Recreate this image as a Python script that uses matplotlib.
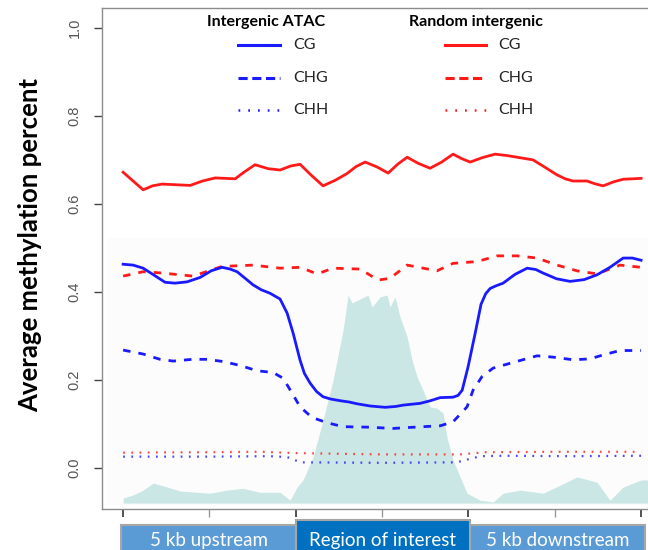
import matplotlib
matplotlib.use("Agg")
import matplotlib.pyplot as plt
from matplotlib.patches import Rectangle
from matplotlib.transforms import blended_transform_factory

# x position: 0-1 = 5 kb upstream, 1-2 = region of interest (scaled), 2-3 = 5 kb downstream
atac_cg_x = [0, 0.058, 0.116, 0.18, 0.243, 0.30, 0.371, 0.446, 0.51, 0.573, 0.62, 0.660, 0.71,
             0.753, 0.80, 0.851, 0.909, 0.950, 0.985, 1.025, 1.05, 1.083, 1.12, 1.158, 1.20,
             1.257, 1.31, 1.355, 1.431, 1.518, 1.58, 1.622, 1.720, 1.78, 1.836, 1.911, 1.94,
             1.964, 1.998, 2.039, 2.073, 2.10, 2.126, 2.16, 2.201, 2.27, 2.340, 2.39, 2.432,
             2.51, 2.589, 2.67, 2.745, 2.82, 2.896, 2.95, 3.0]
atac_cg = [0.463, 0.461, 0.454, 0.438, 0.422, 0.420, 0.423, 0.433, 0.448, 0.456, 0.452, 0.446,
           0.430, 0.416, 0.405, 0.397, 0.384, 0.352, 0.306, 0.245, 0.215, 0.193, 0.174, 0.162,
           0.157, 0.153, 0.150, 0.146, 0.141, 0.138, 0.140, 0.143, 0.147, 0.153, 0.160, 0.161,
           0.165, 0.177, 0.230, 0.306, 0.372, 0.396, 0.408, 0.414, 0.420, 0.440, 0.454, 0.451,
           0.443, 0.430, 0.424, 0.428, 0.439, 0.456, 0.477, 0.477, 0.472]

atac_chg_x = [0, 0.116, 0.214, 0.290, 0.400, 0.486, 0.579, 0.678, 0.776, 0.869, 0.927, 0.979,
              1.025, 1.094, 1.181, 1.274, 1.413, 1.564, 1.645, 1.737, 1.836, 1.911, 1.992, 2.027,
              2.079, 2.143, 2.241, 2.398, 2.490, 2.606, 2.704, 2.780, 2.878, 3.0]
atac_chg = [0.268, 0.259, 0.247, 0.243, 0.247, 0.247, 0.242, 0.233, 0.221, 0.217, 0.204, 0.170,
            0.139, 0.115, 0.103, 0.094, 0.093, 0.090, 0.092, 0.094, 0.096, 0.105, 0.139, 0.177,
            0.208, 0.227, 0.238, 0.255, 0.252, 0.246, 0.248, 0.257, 0.267, 0.267]

atac_chh_x = [0, 0.5, 0.85, 0.95, 0.985, 1.025, 1.5, 1.932, 1.97, 2.02, 2.07, 2.2, 2.6, 3.0]
atac_chh = [0.026, 0.026, 0.027, 0.025, 0.020, 0.013, 0.012, 0.013, 0.017, 0.022, 0.027, 0.028,
            0.027, 0.028]

rand_cg_x = [0, 0.058, 0.116, 0.17, 0.226, 0.388, 0.46, 0.533, 0.649, 0.70, 0.764, 0.84, 0.909,
             0.97, 1.025, 1.09, 1.158, 1.23, 1.297, 1.35, 1.402, 1.47, 1.535, 1.59, 1.645, 1.71,
             1.778, 1.845, 1.911, 1.96, 2.010, 2.08, 2.154, 2.22, 2.282, 2.374, 2.44, 2.513,
             2.56, 2.606, 2.687, 2.73, 2.780, 2.84, 2.896, 2.95, 3.0]
rand_cg = [0.672, 0.652, 0.632, 0.641, 0.645, 0.642, 0.652, 0.659, 0.657, 0.672, 0.689, 0.680,
           0.677, 0.686, 0.690, 0.665, 0.641, 0.654, 0.669, 0.685, 0.695, 0.684, 0.670, 0.690,
           0.706, 0.692, 0.681, 0.695, 0.713, 0.703, 0.695, 0.705, 0.713, 0.710, 0.706, 0.700,
           0.684, 0.666, 0.657, 0.652, 0.652, 0.646, 0.641, 0.650, 0.656, 0.657, 0.658]

rand_chg_x = [0, 0.116, 0.226, 0.405, 0.573, 0.753, 0.909, 1.025, 1.124, 1.216, 1.373, 1.477,
              1.546, 1.645, 1.818, 1.911, 2.050, 2.166, 2.282, 2.398, 2.513, 2.629, 2.745, 2.878,
              3.0]
rand_chg = [0.436, 0.446, 0.443, 0.436, 0.458, 0.461, 0.454, 0.456, 0.441, 0.454, 0.452, 0.427,
            0.431, 0.461, 0.448, 0.465, 0.469, 0.482, 0.482, 0.477, 0.461, 0.448, 0.441, 0.461,
            0.456]

rand_chh_x = [0, 0.5, 0.8, 1.0, 1.5, 1.95, 2.1, 2.5, 3.0]
rand_chh = [0.035, 0.036, 0.037, 0.034, 0.031, 0.031, 0.036, 0.037, 0.037]

# ATAC-seq signal drawn as a shaded profile behind the curves
signal_x = [0, 0.058, 0.116, 0.174, 0.255, 0.330, 0.429, 0.504, 0.602, 0.695, 0.793, 0.909,
            0.967, 1.008, 1.042, 1.100, 1.158, 1.216, 1.274, 1.303, 1.326, 1.361, 1.419, 1.442,
            1.489, 1.529, 1.546, 1.575, 1.604, 1.645, 1.674, 1.703, 1.737, 1.778, 1.818, 1.853,
            1.876, 1.911, 1.952, 1.992, 2.068, 2.143, 2.201, 2.300, 2.432, 2.531, 2.629, 2.745,
            2.820, 2.896, 3.0, 3.04]
signal = [-0.068, -0.061, -0.050, -0.034, -0.043, -0.052, -0.055, -0.057, -0.050, -0.046, -0.055,
          -0.055, -0.073, -0.043, -0.027, 0.025, 0.109, 0.200, 0.314, 0.393, 0.375, 0.382, 0.393,
          0.366, 0.389, 0.393, 0.366, 0.389, 0.343, 0.298, 0.245, 0.207, 0.177, 0.139, 0.136,
          0.125, 0.070, 0.018, -0.020, -0.057, -0.073, -0.077, -0.057, -0.050, -0.057, -0.039,
          -0.020, -0.032, -0.073, -0.043, -0.027, -0.027]
signal_base = -0.0795

segments = ["5 kb upstream", "Region of interest", "5 kb downstream"]
seg_edges = [(-0.01, 1.0), (1.0, 2.01), (2.01, 3.02)]
seg_colors = ["#5b9bd5", "#0070c0", "#5b9bd5"]

yticks = [0.0, 0.2, 0.4, 0.6, 0.8, 1.0]
xticks_major = [0, 1, 2, 3]
xticks_minor = [0.5, 1.5, 2.5]

BLUE = "#1a1aff"
RED = "#ff1a1a"
CALIBRI = ["Lato", "DejaVu Sans"]

fig = plt.figure(figsize=(6.48, 5.5), dpi=100)
ax = fig.add_axes([0.158, 0.0745, 0.8633, 0.911])
ax.set_xlim(-0.12, 3.12)
ax.set_ylim(-0.093, 1.045)

# faint backdrop of the pasted signal track
ax.add_patch(Rectangle((-0.093, -0.084), 3.3, 0.607, facecolor="#fcfcfc",
                       edgecolor="none", zorder=0))
ax.fill_between(signal_x, signal_base, signal, color="#cbe7e5", linewidth=0, zorder=1)

dash = (2.7, 2.9)
dot = (0.8, 2.9)
line_kw = dict(zorder=3, solid_joinstyle="round", dash_joinstyle="round")
ax.plot(rand_cg_x, rand_cg, color=RED, lw=2.0, **line_kw)
ax.plot(rand_chg_x, rand_chg, color=RED, lw=2.0, dashes=dash, **line_kw)
ax.plot(rand_chh_x, rand_chh, color=RED, lw=1.6, dashes=dot, alpha=0.8, **line_kw)
ax.plot(atac_cg_x, atac_cg, color=BLUE, lw=2.0, **line_kw)
ax.plot(atac_chg_x, atac_chg, color=BLUE, lw=2.0, dashes=dash, **line_kw)
ax.plot(atac_chh_x, atac_chh, color=BLUE, lw=1.6, dashes=dot, alpha=0.8, **line_kw)

for side in ["left", "top", "bottom", "right"]:
    ax.spines[side].set_color("#8c8c8c")
    ax.spines[side].set_linewidth(1.0)

ax.set_yticks(yticks)
ax.set_yticklabels([f"{v:.1f}" for v in yticks], rotation=90, va="center",
                   family="Liberation Sans", fontsize=10.5, color="#555555")
ax.tick_params(axis="y", length=6, width=1, color="#444444", pad=9)
ax.set_xticks(xticks_major)
ax.set_xticks(xticks_minor, minor=True)
ax.set_xticklabels([])
ax.tick_params(axis="x", which="major", length=6, width=1.2, color="#333333")
ax.tick_params(axis="x", which="minor", length=6, width=1.0, color="#999999")

fig.text(0.046, 0.555, "Average methylation percent", rotation=90, ha="center",
         va="center", family=CALIBRI, fontsize=18.5, fontweight="bold")

# legend laid out as two titled columns
leg_groups = [("Intergenic ATAC", BLUE, 0.2926, 0.2426, 0.3177, 0.3409),
              ("Random intergenic", RED, 0.668, 0.6126, 0.6859, 0.7074)]
leg_rows = [("CG", None, 2.2), ("CHG", (3.0, 1.5), 2.2), ("CHH", (0.7, 3.2), 1.8)]
row_y = [0.9261, 0.8603, 0.7964]
for title, col, cx, x0, x1, tx in leg_groups:
    ax.text(cx, 0.972, title, transform=ax.transAxes, ha="center", va="center",
            family=CALIBRI, fontsize=11.5, fontweight="bold")
    for (lab, ls, lw), yy in zip(leg_rows, row_y):
        kw = {} if ls is None else {"dashes": ls}
        ax.plot([x0, x1], [yy, yy], transform=ax.transAxes, color=col, lw=lw,
                clip_on=False, **kw)
        ax.text(tx, yy, lab, transform=ax.transAxes, ha="left", va="center",
                family=CALIBRI, fontsize=11.5, color="#222222")

# segment boxes under the x axis
trans = blended_transform_factory(ax.transData, fig.transFigure)
for i, (lab, (a, b), fc) in enumerate(zip(segments, seg_edges, seg_colors)):
    top = 0.0545 if i == 1 else 0.0455
    ax.add_patch(Rectangle((a, -0.05), b - a, top + 0.05, transform=trans,
                           facecolor=fc, edgecolor="#a6a6a6", lw=1.5,
                           clip_on=False, zorder=5 if i == 1 else 4))
    ax.text((a + b) / 2, 0.018, lab, transform=trans, ha="center", va="center",
            color="white", family=CALIBRI, fontsize=13.5, zorder=6, clip_on=False)

fig.savefig("out.png", dpi=100)
